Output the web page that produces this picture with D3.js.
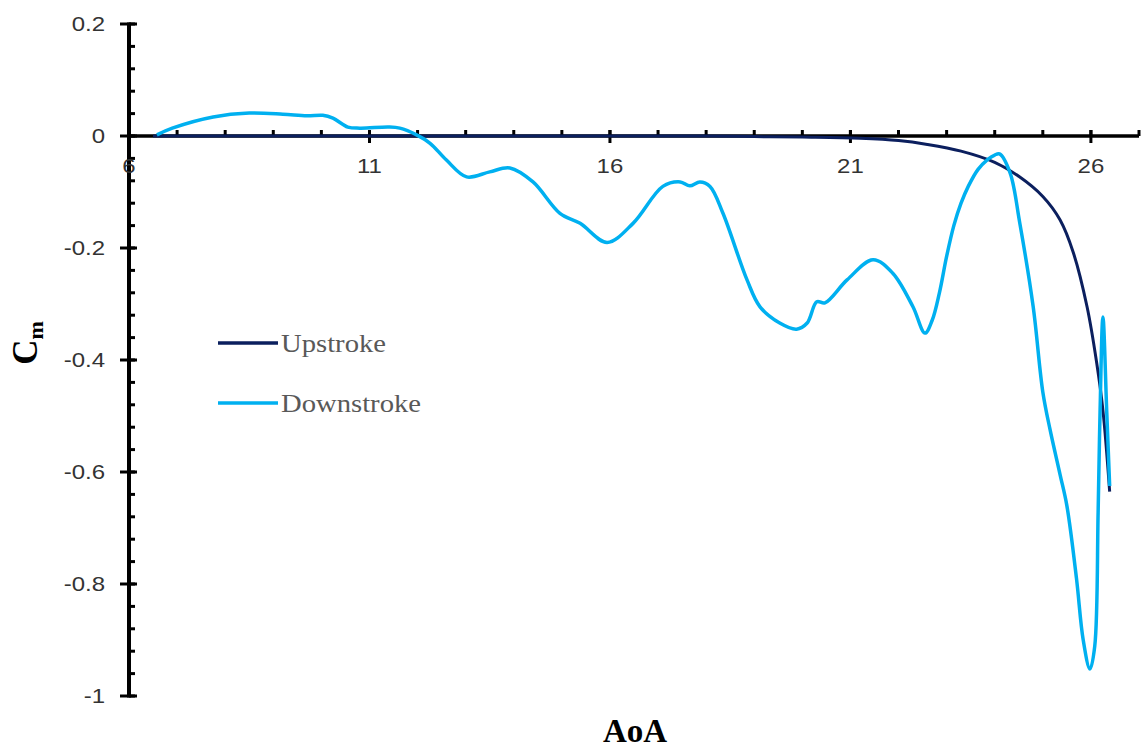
<!DOCTYPE html>
<html>
<head>
<meta charset="utf-8">
<script src="https://cdn.jsdelivr.net/npm/d3@7"></script>
<style>
  body { margin: 0; background: #fff; }
</style>
</head>
<body>
<div id="chart"></div>
<script>
const width = 1142;
const height = 749;

// x range and ticks
const xDomain = [6, 27];
const xTickLabels = [6, 11, 16, 21, 26];
const yTickLabels = [0.2, 0, -0.2, -0.4, -0.6, -0.8, -1];

// Upstroke: AoA / Cm
const upAoA = [6.5, 8, 10, 12, 14, 16, 18, 19, 20, 21.2, 22, 22.6, 23.3, 24, 24.5, 25, 25.36, 25.63, 25.92, 26.12, 26.25, 26.39];
const upCm  = [0, 0, 0, 0, 0, 0, 0, -0.001, -0.002, -0.004, -0.008, -0.015, -0.027, -0.047, -0.072, -0.108, -0.15, -0.207, -0.305, -0.405, -0.49, -0.635];

// Downstroke: AoA / Cm
const downAoA = [6.58, 6.9, 7.75, 8.5, 9.2, 9.7, 10.03, 10.24, 10.55, 10.8, 11.4, 11.63, 11.98, 12.26, 12.6, 13.02, 13.5, 13.92, 14.4, 14.96, 15.38, 15.94, 16.48, 17.1, 17.46, 17.66, 17.87, 18.08, 18.35, 18.85, 19.12, 19.53, 19.88, 20.1, 20.3, 20.47, 20.93, 21.47, 21.88, 22.3, 22.55, 22.7, 22.85, 23.0, 23.15, 23.3, 23.45, 23.65, 23.85, 24.0, 24.1, 24.32, 24.52, 24.8, 25.0, 25.15, 25.36, 25.5, 25.7, 25.84, 25.98, 26.08, 26.15, 26.19, 26.25, 26.33, 26.39];
const downCm  = [0.002, 0.014, 0.034, 0.041, 0.039, 0.036, 0.037, 0.032, 0.016, 0.014, 0.016, 0.014, 0.002, -0.013, -0.043, -0.073, -0.064, -0.057, -0.082, -0.138, -0.156, -0.19, -0.156, -0.09, -0.082, -0.089, -0.082, -0.09, -0.138, -0.257, -0.305, -0.334, -0.345, -0.334, -0.296, -0.298, -0.257, -0.221, -0.245, -0.305, -0.352, -0.329, -0.28, -0.215, -0.16, -0.12, -0.09, -0.06, -0.042, -0.034, -0.032, -0.066, -0.155, -0.305, -0.457, -0.524, -0.605, -0.66, -0.79, -0.9, -0.952, -0.911, -0.673, -0.494, -0.323, -0.494, -0.625];

const seriesNames = ["Upstroke", "Downstroke"];
const seriesColors = ["#0b1f5e", "#00b0f0"];
const legendTextWidths = [105, 140];

const upData = upAoA.map((a, i) => [a, upCm[i]]);
const downData = downAoA.map((a, i) => [a, downCm[i]]);

const x = d3.scaleLinear().domain(xDomain).range([129, 1139]);
const y = d3.scaleLinear().domain([-1, 0.2]).range([696, 24]);

const svg = d3.select("#chart")
  .append("svg")
  .attr("width", width)
  .attr("height", height);

// y axis minor ticks (inside, to the right)
const yMinor = d3.range(-1, 0.2001, 0.04).map((v) => +v.toFixed(2));
svg.append("g")
  .selectAll("line")
  .data(yMinor)
  .join("line")
  .attr("x1", x(6))
  .attr("x2", x(6) + 6)
  .attr("y1", (d) => y(d))
  .attr("y2", (d) => y(d))
  .attr("stroke", "#000")
  .attr("stroke-width", 3);

// y axis major ticks (cross)
svg.append("g")
  .selectAll("line")
  .data(yTickLabels)
  .join("line")
  .attr("x1", x(6) - 9)
  .attr("x2", x(6) + 8)
  .attr("y1", (d) => y(d))
  .attr("y2", (d) => y(d))
  .attr("stroke", "#000")
  .attr("stroke-width", 3);

// y axis line
svg.append("line")
  .attr("x1", x(6)).attr("x2", x(6))
  .attr("y1", y(0.2) - 1.5).attr("y2", y(-1) + 1.5)
  .attr("stroke", "#000")
  .attr("stroke-width", 4);

// y tick labels (the source is a bit stretched sideways)
svg.append("g")
  .selectAll("text")
  .data(yTickLabels)
  .join("text")
  .attr("transform", (d) => `translate(105,${y(d)}) scale(1.2,1)`)
  .attr("dy", "0.35em")
  .attr("text-anchor", "end")
  .attr("font-family", "Liberation Sans, Arial, sans-serif")
  .attr("font-size", 20)
  .attr("fill", "#333")
  .text((d) => d3.format("")(d).replace("−", "-"));

// x axis line
svg.append("line")
  .attr("x1", x(6)).attr("x2", x(27))
  .attr("y1", y(0)).attr("y2", y(0))
  .attr("stroke", "#000")
  .attr("stroke-width", 3.5);

// x minor ticks (pointing up)
svg.append("g")
  .selectAll("line")
  .data(d3.range(7, 28))
  .join("line")
  .attr("x1", (d) => x(d))
  .attr("x2", (d) => x(d))
  .attr("y1", y(0) - 6)
  .attr("y2", y(0))
  .attr("stroke", "#000")
  .attr("stroke-width", 3);

// x major ticks (cross)
svg.append("g")
  .selectAll("line")
  .data(xTickLabels)
  .join("line")
  .attr("x1", (d) => x(d))
  .attr("x2", (d) => x(d))
  .attr("y1", y(0) - 6)
  .attr("y2", y(0) + 7)
  .attr("stroke", "#000")
  .attr("stroke-width", 3);

// x tick labels
svg.append("g")
  .selectAll("text")
  .data(xTickLabels)
  .join("text")
  .attr("transform", (d) => `translate(${x(d)},${y(0) + 30}) scale(1.2,1)`)
  .attr("dy", "0.35em")
  .attr("text-anchor", "middle")
  .attr("font-family", "Liberation Sans, Arial, sans-serif")
  .attr("font-size", 20)
  .attr("fill", "#333")
  .text((d) => d);

// lines (smoothed like the spreadsheet original)
const line = d3.line()
  .x((d) => x(d[0]))
  .y((d) => y(d[1]))
  .curve(d3.curveCatmullRom.alpha(0.5));

svg.append("path")
  .datum(upData)
  .attr("fill", "none")
  .attr("stroke", seriesColors[0])
  .attr("stroke-width", 3)
  .attr("d", line);

svg.append("path")
  .datum(downData)
  .attr("fill", "none")
  .attr("stroke", seriesColors[1])
  .attr("stroke-width", 3.5)
  .attr("stroke-linejoin", "round")
  .attr("d", line);

// legend
const legend = svg.append("g")
  .selectAll("g")
  .data(seriesNames)
  .join("g")
  .attr("transform", (d, i) => `translate(218,${343 + i * 60})`);

legend.append("line")
  .attr("x1", 0).attr("x2", 60)
  .attr("stroke", (d, i) => seriesColors[i])
  .attr("stroke-width", 3.5);

legend.append("text")
  .attr("x", 63)
  .attr("y", 9)
  .attr("font-family", "Liberation Serif, Times New Roman, serif")
  .attr("font-size", 26)
  .attr("fill", "#595959")
  .attr("textLength", (d, i) => legendTextWidths[i])
  .attr("lengthAdjust", "spacingAndGlyphs")
  .text((d) => d);

// axis titles
svg.append("text")
  .attr("x", 635)
  .attr("y", 742)
  .attr("text-anchor", "middle")
  .attr("font-family", "Liberation Serif, Times New Roman, serif")
  .attr("font-weight", "bold")
  .attr("font-size", 33)
  .attr("fill", "#000")
  .text("AoA");

const yTitle = svg.append("text")
  .attr("transform", "translate(37,343) rotate(-90)")
  .attr("text-anchor", "middle")
  .attr("font-family", "Liberation Serif, Times New Roman, serif")
  .attr("font-weight", "bold")
  .attr("font-size", 35)
  .attr("fill", "#000");
yTitle.append("tspan").text("C");
yTitle.append("tspan").attr("font-size", 22).attr("dy", 6).text("m");
</script>
</body>
</html>
